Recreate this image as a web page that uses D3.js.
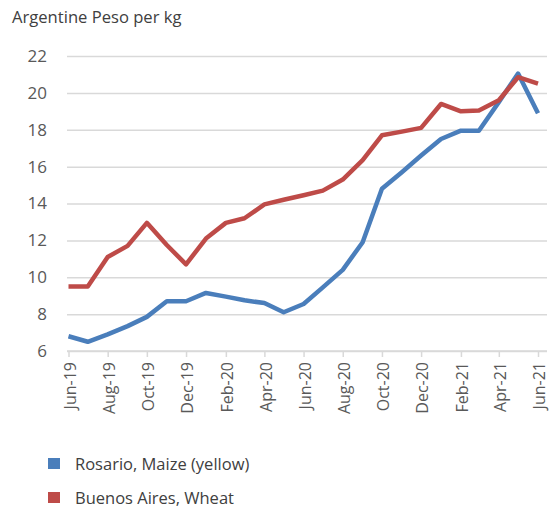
<!DOCTYPE html>
<html>
<head>
<meta charset="utf-8">
<script src="https://cdn.jsdelivr.net/npm/d3@7"></script>
<style>
	body { margin: 0; background: #fff; }
	text { font-family: "Open Sans", sans-serif; }
</style>
</head>
<body>
<svg id="chart"></svg>
<script type="text/javascript">

	// data (monthly, Jun-19 .. Jun-21)
	let months = ["2019-06","2019-07","2019-08","2019-09","2019-10","2019-11","2019-12",
		"2020-01","2020-02","2020-03","2020-04","2020-05","2020-06","2020-07","2020-08",
		"2020-09","2020-10","2020-11","2020-12","2021-01","2021-02","2021-03","2021-04",
		"2021-05","2021-06"]
	let maize = [6.8, 6.5, 6.9, 7.35, 7.85, 8.7, 8.7, 9.15, 8.95, 8.75, 8.6, 8.1, 8.55, 9.45,
		10.4, 11.9, 14.8, 15.7, 16.6, 17.5, 17.95, 17.95, 19.5, 21.05, 18.9]
	let wheat = [9.5, 9.5, 11.1, 11.7, 12.95, 11.75, 10.7, 12.1, 12.95, 13.2, 13.95, 14.2, 14.45,
		14.7, 15.3, 16.35, 17.7, 17.9, 18.1, 19.4, 19.0, 19.05, 19.6, 20.85, 20.5]
	let seriesNames = ["Rosario, Maize (yellow)", "Buenos Aires, Wheat"]
	let seriesColors = ["#4a7ebb", "#be4b48"]
	let yTicks = [6, 8, 10, 12, 14, 16, 18, 20, 22]

	let width = 549
	let height = 508
	let plotLeft = 68.5, plotRight = 538, plotTop = 56, plotBottom = 351

	let parse = d3.timeParse("%Y-%m")
	let dates = months.map(parse)
	let xTicks = dates.filter(function(d, i){ return i % 2 === 0 })
	let series = [maize, wheat].map(function(vals, i){
		return { name: seriesNames[i], color: seriesColors[i],
			values: vals.map(function(v, j){ return { date: dates[j], value: v } }) }
	})

	let chart = d3.select("#chart")
		.attr("width", width)
		.attr("height", height)

	let xScale = d3.scaleTime()
		.domain([dates[0], dates[dates.length - 1]])
		.range([plotLeft, plotRight])

	let yScale = d3.scaleLinear()
		.domain([6, 22])
		.range([plotBottom, plotTop])

	// title
	chart.append("text")
		.attr("x", 12)
		.attr("y", 23)
		.style("font-size", "16.6px")
		.style("fill", "#404040")
		.text("Argentine Peso per kg")

	// gridlines + y labels
	let yAxis = d3.axisLeft(yScale)
		.tickValues(yTicks)
		.tickSize(-(547 - 67))
		.tickPadding(20)
	let yAxisGlyph = chart.append("g")
		.attr("transform", "translate(67,0)")
		.call(yAxis)
	yAxisGlyph.select(".domain").remove()
	yAxisGlyph.selectAll("line").style("stroke", "#d9d9d9").style("stroke-width", 1.5)
	yAxisGlyph.selectAll("text")
		.style("font-size", "17px")
		.style("fill", "#595959")
		.attr("font-family", null)

	// x axis
	let xAxis = d3.axisBottom(xScale)
		.tickValues(xTicks)
		.tickFormat(d3.timeFormat("%b-%y"))
		.tickSize(6)
		.tickSizeOuter(0)
	let xAxisGlyph = chart.append("g")
		.attr("transform", "translate(0," + plotBottom + ")")
		.call(xAxis)
	xAxisGlyph.select(".domain").style("stroke", "#d9d9d9").style("stroke-width", 1.5)
		.attr("d", "M67,0H547")
	xAxisGlyph.selectAll("line").style("stroke", "#d9d9d9").style("stroke-width", 1.5)
	xAxisGlyph.selectAll("text")
		.attr("font-family", null)
		.style("font-size", "16px")
		.style("fill", "#595959")
		.style("text-anchor", "end")
		.attr("transform", "rotate(-90)")
		.attr("x", -11)
		.attr("y", 1)
		.attr("dy", "0.35em")

	// lines
	let lineGenerator = d3.line()
		.x(function(d){ return xScale(d.date) })
		.y(function(d){ return yScale(d.value) })

	chart.selectAll("path.wordline")
		.data(series)
		.enter().append("path")
		.classed("wordline", true)
		.style("fill", "none")
		.style("stroke", function(d){ return d.color })
		.style("stroke-width", 4.5)
		.style("stroke-linejoin", "round")
		.attr("d", function(d){ return lineGenerator(d.values) })

	// legend
	let legend = chart.selectAll("g.legend")
		.data(series)
		.enter().append("g")
		.classed("legend", true)
		.attr("transform", function(d, i){ return "translate(48," + (458 + i * 34) + ")" })
	legend.append("rect")
		.attr("width", 12)
		.attr("height", 11)
		.style("fill", function(d){ return d.color })
	legend.append("text")
		.attr("x", 27)
		.attr("y", 6)
		.attr("dy", "0.35em")
		.style("font-size", "16.5px")
		.style("fill", "#404040")
		.text(function(d){ return d.name })

</script>
</body>
</html>
